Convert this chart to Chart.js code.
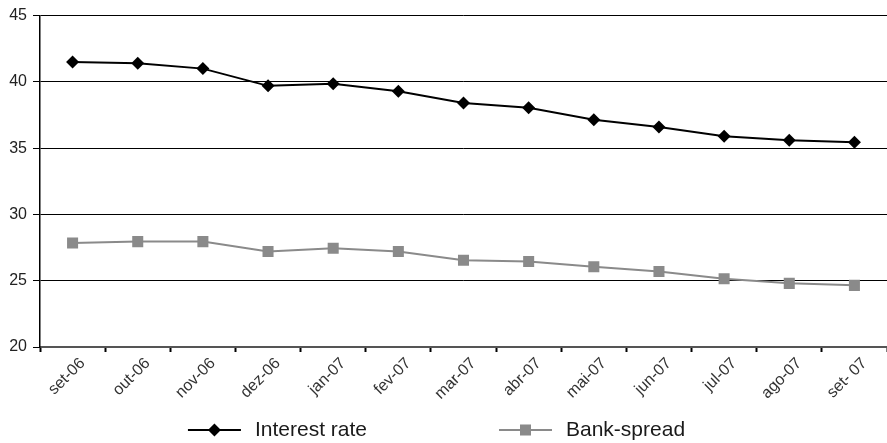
<!DOCTYPE html>
<html lang="en">
<head>
    <meta charset="UTF-8">
    <title>Interest rate and bank spread</title>
    <script src="https://cdn.jsdelivr.net/npm/chart.js"></script>
    <style>
        html, body { margin: 0; padding: 0; background: #fff; }
        #wrap { width: 887px; height: 443px; }
    </style>
</head>
<body>
    <div id="wrap">
        <canvas id="rateChart" width="887" height="443"></canvas>
    </div>

    <script>
        // Data
        const months = ['set-06', 'out-06', 'nov-06', 'dez-06', 'jan-07', 'fev-07', 'mar-07',
                        'abr-07', 'mai-07', 'jun-07', 'jul-07', 'ago-07', 'set- 07'];
        const interestRate = [41.5, 41.4, 41.0, 39.7, 39.85, 39.3, 38.4, 38.05, 37.15, 36.6, 35.9, 35.6, 35.45];
        const bankSpread = [27.85, 27.95, 27.95, 27.2, 27.45, 27.2, 26.55, 26.45, 26.05, 25.7, 25.15, 24.8, 24.65];
        const yTicks = [20, 25, 30, 35, 40, 45];

        const FONT = '"Liberation Sans", Arial, sans-serif';

        // Legend drawn under the plot: line with a marker, then the label
        const bottomLegend = {
            id: 'bottomLegend',
            afterDraw(chart) {
                const ctx = chart.ctx;
                ctx.save();
                ctx.font = '21px ' + FONT;
                const lineLen = 53;
                const gap = 132;
                const items = chart.data.datasets.map(ds => ({
                    ds: ds,
                    w: lineLen + 14 + ctx.measureText(ds.label).width
                }));
                const total = items.reduce((s, it) => s + it.w, 0) + gap * (items.length - 1);
                let x = (chart.width - total) / 2 - 7;
                const y = 430;
                items.forEach(it => {
                    const ds = it.ds;
                    ctx.strokeStyle = ds.borderColor;
                    ctx.lineWidth = 2;
                    ctx.beginPath();
                    ctx.moveTo(x, y);
                    ctx.lineTo(x + lineLen, y);
                    ctx.stroke();
                    const cx = x + lineLen / 2;
                    ctx.fillStyle = ds.pointBackgroundColor;
                    ctx.beginPath();
                    if (ds.pointStyle === 'rectRot') {
                        const r = ds.pointRadius;
                        ctx.moveTo(cx, y - r);
                        ctx.lineTo(cx + r, y);
                        ctx.lineTo(cx, y + r);
                        ctx.lineTo(cx - r, y);
                        ctx.closePath();
                    } else {
                        const h = ds.pointRadius * Math.SQRT1_2;
                        ctx.rect(cx - h, y - h, 2 * h, 2 * h);
                    }
                    ctx.fill();
                    ctx.fillStyle = '#1a1a1a';
                    ctx.textBaseline = 'middle';
                    ctx.textAlign = 'left';
                    ctx.fillText(ds.label, x + lineLen + 14, y);
                    x += it.w + gap;
                });
                ctx.restore();
            }
        };

        const ctx = document.getElementById('rateChart').getContext('2d');
        new Chart(ctx, {
            type: 'line',
            data: {
                labels: months,
                datasets: [{
                    label: 'Interest rate',
                    data: interestRate,
                    borderColor: '#000000',
                    backgroundColor: '#000000',
                    borderWidth: 2,
                    pointStyle: 'rectRot',
                    pointRadius: 6.5,
                    pointBackgroundColor: '#000000',
                    pointBorderWidth: 0,
                    tension: 0
                }, {
                    label: 'Bank-spread',
                    data: bankSpread,
                    borderColor: '#8a8a8a',
                    backgroundColor: '#8a8a8a',
                    borderWidth: 2,
                    pointStyle: 'rect',
                    pointRadius: 7.8,
                    pointBackgroundColor: '#8a8a8a',
                    pointBorderWidth: 0,
                    tension: 0
                }]
            },
            options: {
                responsive: false,
                animation: false,
                layout: { autoPadding: false, padding: { top: 15, right: 0, bottom: 0, left: 0 } },
                plugins: {
                    legend: { display: false },
                    tooltip: { enabled: false }
                },
                scales: {
                    x: {
                        offset: true,
                        grid: {
                            offset: true,
                            drawOnChartArea: false,
                            tickLength: 5,
                            tickColor: '#000',
                            tickWidth: 2
                        },
                        border: { color: '#555', width: 2 },
                        ticks: {
                            color: '#333',
                            font: { family: FONT, size: 16 },
                            minRotation: 45,
                            maxRotation: 45,
                            labelOffset: 10,
                            padding: 2
                        },
                        afterFit: scale => { scale.height = 96; }
                    },
                    y: {
                        min: 20,
                        max: 45,
                        afterBuildTicks: scale => {
                            scale.ticks = yTicks.map(v => ({ value: v }));
                        },
                        grid: {
                            color: '#000',
                            lineWidth: 1,
                            tickLength: 7,
                            tickColor: '#000'
                        },
                        border: { color: '#000', width: 1.5 },
                        ticks: {
                            color: '#222',
                            font: { family: FONT, size: 16 },
                            padding: 6
                        },
                        afterFit: scale => { scale.width = 40; }
                    }
                }
            },
            plugins: [bottomLegend]
        });
    </script>
</body>
</html>
